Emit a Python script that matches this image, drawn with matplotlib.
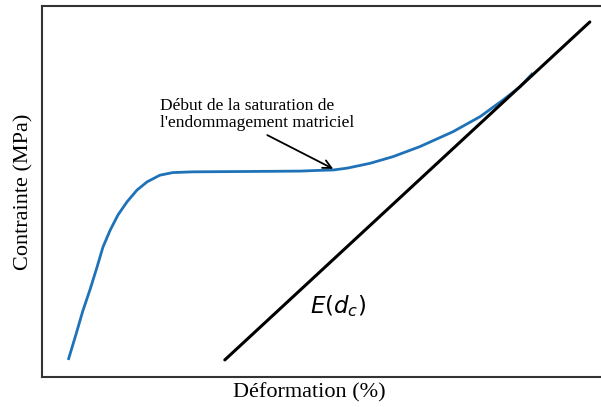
import matplotlib
matplotlib.use("Agg")
import matplotlib.pyplot as plt

# Stress-strain response (arbitrary units)
strain = [0.47, 0.61, 0.73, 0.86, 0.98, 1.09, 1.22, 1.36, 1.52, 1.70,
          1.88, 2.11, 2.34, 2.70, 3.72, 4.62, 4.97, 5.21, 5.46, 5.87,
          6.28, 6.76, 7.35, 7.84, 8.25, 8.55, 8.78]
stress = [0.46, 1.16, 1.78, 2.36, 2.94, 3.50, 3.96, 4.37, 4.72, 5.04,
          5.26, 5.44, 5.51, 5.53, 5.54, 5.55, 5.57, 5.58, 5.63, 5.76,
          5.94, 6.21, 6.61, 7.02, 7.47, 7.82, 8.19]

# Secant stiffness line E(d_c)
line_strain = [3.27, 9.80]
line_stress = [0.46, 9.57]

# Point where matrix damage saturates, and the arrow's tail
sat_point = (5.21, 5.61)
arrow_tail = (4.03, 6.52)
sat_label_pos = (2.11, 7.52)

serif = "Liberation Serif"

fig = plt.figure(figsize=(6.01, 4.07), dpi=100)
ax = fig.add_axes([42 / 601, 30 / 407, 559 / 601, 371 / 407])

ax.plot(strain, stress, color="#1f72b8", lw=2.0,
        solid_capstyle="butt", solid_joinstyle="round")
ax.plot(line_strain, line_stress, color="black", lw=2.2, solid_capstyle="round")

ax.text(*sat_label_pos, "Début de la saturation de\nl'endommagement matriciel",
        fontsize=12.5, family=serif, ha="left", va="top", linespacing=1.1)
ax.annotate("", xy=sat_point, xytext=arrow_tail,
            arrowprops=dict(arrowstyle="->", color="black", lw=1.3,
                            mutation_scale=15, shrinkA=0, shrinkB=0))

ax.text(4.80, 1.9, r"$E(d_c)$", fontsize=16.5, ha="left", va="center")

ax.set_xlim(0, 10)
ax.set_ylim(0, 10)
ax.set_xticks([])
ax.set_yticks([])
for side in ("left", "bottom", "top"):
    ax.spines[side].set_color("#333333")
    ax.spines[side].set_linewidth(1.5)
ax.spines["right"].set_visible(False)

ax.set_xlabel("Déformation (%)", fontsize=16, family=serif)
ax.xaxis.set_label_coords(0.478, -0.015, transform=ax.transAxes)
ax.xaxis.label.set_va("top")
ax.set_ylabel("Contrainte (MPa)", fontsize=16, family=serif, labelpad=6)

fig.savefig("out.png", dpi=100, facecolor="white")
